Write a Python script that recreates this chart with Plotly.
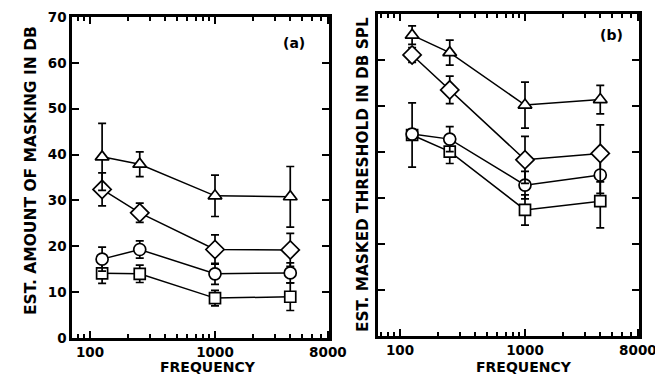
import plotly.graph_objects as go

# ---- data ----
freq = [125, 250, 1000, 4000]

# panel (a): estimated amount of masking (dB)
tri_a = [39.5, 37.9, 31.0, 30.8]
tri_a_err = [7.3, 2.7, 4.5, 6.6]
dia_a = [32.4, 27.3, 19.3, 19.2]
dia_a_err = [3.6, 2.1, 3.2, 3.6]
cir_a = [17.2, 19.3, 14.0, 14.2]
cir_a_err = [2.6, 1.9, 2.3, 2.2]
sq_a = [14.1, 14.0, 8.7, 9.0]
sq_a_err = [2.2, 1.9, 1.7, 3.0]

# panel (b): estimated masked threshold (dB SPL)
tri_b = [65.4, 61.6, 50.2, 51.4]
tri_b_err = [2.0, 2.7, 5.0, 3.1]
dia_b = [61.1, 53.5, 38.3, 39.7]
dia_b_err = [1.6, 3.0, 5.1, 6.2]
cir_b = [43.9, 42.8, 32.8, 35.0]
cir_b_err = [1.0, 2.7, 3.0, 4.0]
sq_b = [43.7, 40.1, 27.4, 29.3]
sq_b_err = [7.0, 2.6, 3.3, 5.8]

x_tickvals = [100, 1000, 8000]
x_ticktext = ["100", "1000", "8000"]
x_minor = [70, 80, 90, 200, 300, 400, 500, 600, 700, 800, 900,
           2000, 3000, 4000, 5000, 6000, 7000]
y_tickvals = [0, 10, 20, 30, 40, 50, 60, 70]

# the page body has an 8px margin: figure is placed at (8, 8) and
# extends to the right/bottom edge of the 663x379 window
OFF = 8
W, H = 663 - OFF, 379 - OFF
FONT = "DejaVu Sans"


def px(x):
    return (x - OFF) / W


def py(y):
    return 1 - (y - OFF) / H


fig = go.Figure()

sym = {"tri": "triangle-up", "dia": "diamond", "cir": "circle", "sq": "square"}
size = {"tri": 12, "dia": 14, "cir": 12, "sq": 11}


def add(xa, ya, y, err, key):
    fig.add_trace(go.Scatter(
        x=freq, y=y, xaxis=xa, yaxis=ya, mode="lines+markers",
        line=dict(color="black", width=1.5),
        marker=dict(symbol=sym[key], size=size[key], color="white",
                    line=dict(color="black", width=1.7)),
        error_y=dict(type="data", array=err, visible=True, color="black",
                     thickness=1.7, width=4),
        showlegend=False, cliponaxis=False,
    ))


for y, e, k in [(sq_a, sq_a_err, "sq"), (cir_a, cir_a_err, "cir"),
                (dia_a, dia_a_err, "dia"), (tri_a, tri_a_err, "tri")]:
    add("x", "y", y, e, k)
for y, e, k in [(sq_b, sq_b_err, "sq"), (cir_b, cir_b_err, "cir"),
                (dia_b, dia_b_err, "dia"), (tri_b, tri_b_err, "tri")]:
    add("x2", "y2", y, e, k)

tickfont = dict(family=FONT, size=13.5, color="black", weight="bold")


def xaxis(domain, rng, anchor):
    return dict(
        type="log", domain=domain, range=rng, anchor=anchor, automargin=False,
        tickmode="array", tickvals=x_tickvals, ticktext=x_ticktext,
        ticks="inside", ticklen=7, tickwidth=1.6, tickcolor="black",
        minor=dict(tickmode="array", tickvals=x_minor, ticks="inside",
                   ticklen=4, tickwidth=1.6, tickcolor="black", showgrid=False),
        showline=True, linecolor="black", linewidth=2.5, mirror="allticks",
        showgrid=False, zeroline=False, tickfont=tickfont,
    )


def yaxis(domain, anchor, labels):
    return dict(
        domain=domain, range=[0, 70], anchor=anchor, automargin=False,
        tickmode="array", tickvals=y_tickvals,
        ticks="inside", ticklen=7, tickwidth=1.6, tickcolor="black",
        showline=True, linecolor="black", linewidth=2.5, mirror="allticks",
        showgrid=False, zeroline=False, tickfont=tickfont,
        showticklabels=labels,
    )


fig.update_layout(
    width=W, height=H,
    margin=dict(l=0, r=0, t=0, b=0, autoexpand=False),
    paper_bgcolor="white", plot_bgcolor="white",
    xaxis=xaxis([px(72), px(329)], [1.856, 3.912], "y"),
    yaxis=yaxis([py(338), py(17)], "x", True),
    xaxis2=xaxis([px(378), px(639)], [1.824, 3.912], "y2"),
    yaxis2=yaxis([py(336), py(14)], "x2", False),
)

ann = [
    dict(text="FREQUENCY", x=208, y=366.5, size=14),
    dict(text="FREQUENCY", x=524, y=366.5, size=14),
    dict(text="EST. AMOUNT OF MASKING IN DB", x=31, y=171, size=15.5, textangle=-90),
    dict(text="EST. MASKED THRESHOLD IN DB SPL", x=363, y=175, size=15.3, textangle=-90),
    dict(text="(a)", x=294, y=43, size=14),
    dict(text="(b)", x=611, y=35, size=14),
]
for a in ann:
    fig.add_annotation(
        xref="paper", yref="paper", xanchor="center", yanchor="middle",
        x=px(a["x"]), y=py(a["y"]), text=a["text"],
        textangle=a.get("textangle", 0), showarrow=False,
        font=dict(family=FONT, size=a["size"], color="black", weight="bold"),
    )

fig.write_html("out.html")
